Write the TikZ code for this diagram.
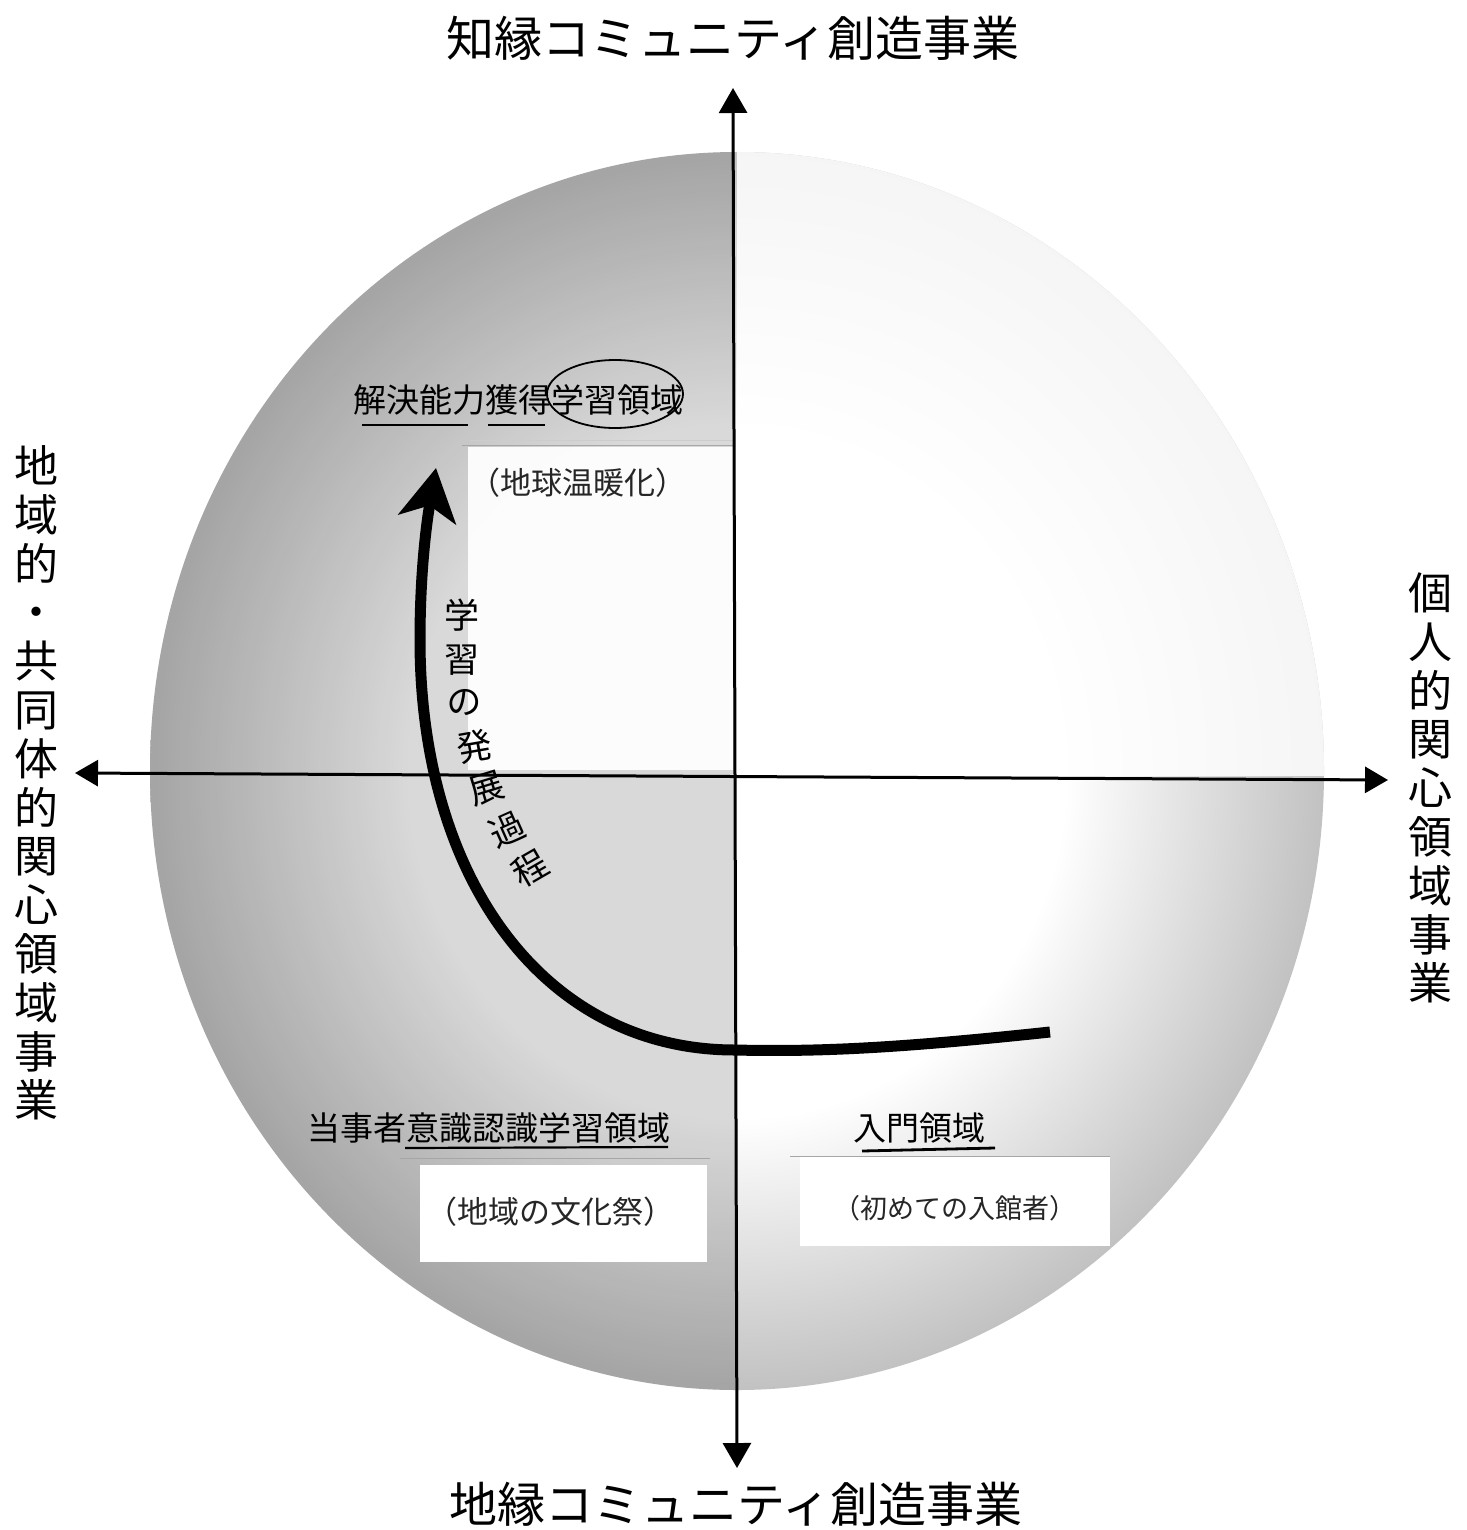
\documentclass[tikz,border=0pt]{standalone}
\usepackage{fontspec}
\setmainfont{Noto Sans CJK JP}
\usetikzlibrary{arrows.meta}
\pgfdeclareradialshading{globe}{\pgfpoint{0bp}{0bp}}{color(0bp)=(white); color(14bp)=(white); color(30bp)=(black!35); color(42bp)=(black!66); color(50bp)=(black!82); color(100bp)=(black!82)}
\begin{document}
\begin{tikzpicture}[x=1pt,y=-1pt,
  axisline/.style={line width=3pt},
  title/.style={font=\fontsize{48}{48}\selectfont, inner sep=0pt},
  vlabel/.style={font=\fontsize{44}{48.8}\selectfont, align=center, inner sep=0pt},
  region/.style={font=\fontsize{33}{33}\selectfont, inner sep=0pt},
  hand/.style={font=\fontsize{31}{31}\selectfont, inner sep=0pt, text=black!85},
  handsmall/.style={font=\fontsize{27}{27}\selectfont, inner sep=0pt, text=black!85},
  curvech/.style={font=\fontsize{35}{35}\selectfont, inner sep=0pt},
  uline/.style={line width=2.2pt, black},
  cutline/.style={line width=1pt, black!35},
]
\useasboundingbox (0,0) rectangle (1466,1530);
\fill[white] (0,0) rectangle (1466,1530);

% globe
\coordinate (c) at (737,771);
\shade[shading=globe] (c) ellipse [x radius=587pt, y radius=619pt];
\begin{scope}
  \clip (c) ellipse [x radius=587pt, y radius=619pt];
  \fill[white, opacity=0.85] (737,100) rectangle (1400,776);
  \fill[black, opacity=0.15] (100,100) rectangle (735,1450);
\end{scope}

% pasted white boxes
\fill[white, opacity=0.93] (468,447) rectangle (733,770);
\draw[cutline] (462,445) -- (733,445);
\draw[cutline, black!20] (470,440) -- (733,440);
\fill[white] (420,1165) rectangle (707,1262);
\draw[cutline] (400,1158) -- (710,1158);
\fill[white] (800,1156) rectangle (1110,1246);
\draw[cutline] (790,1156) -- (1110,1156);

% axes
\coordinate (vt) at (733,88);
\coordinate (vb) at (737,1468);
\coordinate (hl) at (75,773);
\coordinate (hr) at (1388,780);
\draw[axisline, {Triangle[length=25pt,width=28pt]}-{Triangle[length=25pt,width=28pt]}] (vt) -- (vb);
\draw[axisline, {Triangle[length=23pt,width=26pt]}-{Triangle[length=23pt,width=26pt]}] (hl) -- (hr);

% outer labels
\node[title] (top) at (733,38) {知縁コミュニティ創造事業};
\node[title] (bot) at (736,1504) {地縁コミュニティ創造事業};
\node[vlabel] (left) at (36,783) {地\\域\\的\\・\\共\\同\\体\\的\\関\\心\\領\\域\\事\\業};
\node[vlabel] (right) at (1430,788) {個\\人\\的\\関\\心\\領\\域\\事\\業};

% region labels
\node[region] (r1) at (518,400) {解決能力獲得学習領域};
\coordinate (e1) at (615,394);
\draw[line width=1.8pt] (e1) ellipse [x radius=68pt, y radius=34pt];
\coordinate (u1a) at (362,425);
\coordinate (u1b) at (468,425);
\coordinate (u1c) at (488,425);
\coordinate (u1d) at (545,425);
\draw[uline] (u1a) -- (u1b);
\draw[uline] (u1c) -- (u1d);
\node[hand] (h1) at (578,483) {（地球温暖化）};

\node[region] (r2) at (489,1128) {当事者意識認識学習領域};
\coordinate (u2a) at (405,1148);
\coordinate (u2b) at (668,1147);
\draw[uline] (u2a) -- (u2b);
\node[hand] (h2) at (550,1212) {（地域の文化祭）};

\node[region] (r3) at (919,1128) {入門領域};
\coordinate (u3a) at (862,1151);
\coordinate (u3b) at (995,1148);
\draw[uline, line width=2.8pt] (u3a) -- (u3b);
\node[handsmall] (h3) at (955,1208) {（初めての入館者）};

% learning development arrow
\coordinate (s) at (1050,1032);
\coordinate (t) at (436,468);
\draw[line width=11pt, -{Stealth[length=52pt,width=58pt,inset=14pt]}]
  (s) .. controls (900,1048) and (820,1052) .. (735,1050)
      .. controls (545,1050) and (420,880) .. (420,640)
      .. controls (420,570) and (427,520) .. (t);

\node[curvech] (k1) at (462,615) {学};
\node[curvech] (k2) at (462,660) {習};
\node[curvech, rotate=3] (k3) at (464,703) {の};
\node[curvech, rotate=10] (k4) at (474,746) {発};
\node[curvech, rotate=17] (k5) at (487,788) {展};
\node[curvech, rotate=24] (k6) at (507,829) {過};
\node[curvech, rotate=30] (k7) at (530,868) {程};
\end{tikzpicture}
\end{document}
